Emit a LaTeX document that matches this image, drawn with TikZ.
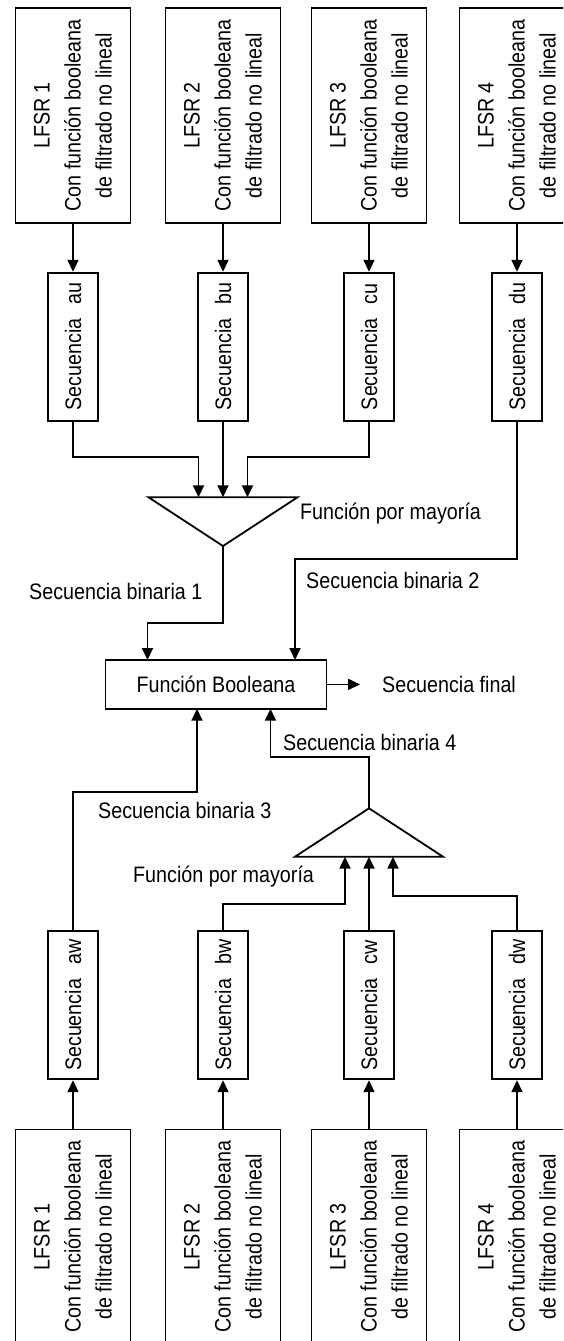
\documentclass[tikz,border=0pt]{standalone}
\usepackage{fontspec}
\setmainfont{Liberation Sans}[FakeStretch=0.88]
\usetikzlibrary{arrows.meta}
\begin{document}
\begin{tikzpicture}[x=1pt,y=-1pt,
  every node/.style={font=\fontsize{22.4}{31}\selectfont, inner sep=0pt, text=black},
  lfsrbox/.style={draw, line width=1.8pt, minimum width=115pt, minimum height=214.4pt},
  seqbox/.style={draw, line width=1.8pt, minimum width=49.4pt, minimum height=148pt},
  fbbox/.style={draw, line width=1.8pt, minimum width=221pt, minimum height=48.7pt},
  vtext/.style={rotate=90, align=center},
  lbl/.style={anchor=base west},
  arr/.style={line width=1.8pt, -{Triangle[length=12pt,width=11pt]}},
  tri/.style={line width=1.8pt, line join=miter}
]
\useasboundingbox (0,0) rectangle (563,1341);
\clip (0,0) rectangle (563,1341);

% ---- top LFSR boxes and sequences
\foreach \i/\x/\s in {1/73/au,2/223/bu,3/369/cu,4/517/du}{
  \node[lfsrbox] (LT\i) at (\x,115.5) {};
  \node[vtext] (LT\i t) at (LT\i) {LFSR \i\\Con función booleana\\de filtrado no lineal};
  \node[seqbox] (ST\i) at (\x,346.7) {};
  \node[rotate=90] (ST\i t) at (ST\i) {Secuencia\hspace{14pt}\s};
  \draw[arr] (LT\i.south) -- (ST\i.north);
}

% ---- bottom LFSR boxes and sequences
\foreach \i/\x/\s in {1/73/aw,2/223/bw,3/369/cw,4/517/dw}{
  \node[lfsrbox] (LB\i) at (\x,1236.7) {};
  \node[vtext] (LB\i t) at (LB\i) {LFSR \i\\Con función booleana\\de filtrado no lineal};
  \node[seqbox] (SB\i) at (\x,1005.3) {};
  \node[rotate=90] (SB\i t) at (SB\i) {Secuencia\hspace{14pt}\s};
  \draw[arr] (LB\i.north) -- (SB\i.south);
}

% ---- majority triangles
\coordinate (T1l) at (148.5,497.3);
\coordinate (T1r) at (297.5,497.3);
\coordinate (T1a) at (223,546);
\coordinate (T1i1) at (198.5,497.3);
\coordinate (T1i2) at (223,497.3);
\coordinate (T1i3) at (247.5,497.3);
\draw[tri] (T1l) -- (T1r) -- (T1a) -- cycle;

\coordinate (T2l) at (295,856.7);
\coordinate (T2r) at (443,856.7);
\coordinate (T2a) at (369,808.3);
\coordinate (T2i1) at (345,856.7);
\coordinate (T2i2) at (369,856.7);
\coordinate (T2i3) at (393,856.7);
\draw[tri] (T2l) -- (T2r) -- (T2a) -- cycle;

% ---- Boolean function box
\node[fbbox] (FB) at (216,684.4) {Función Booleana};
\coordinate (FBi1) at (147.5,660);
\coordinate (FBi2) at (295,660);
\coordinate (FBi3) at (197,708.7);
\coordinate (FBi4) at (270.5,708.7);
\coordinate (OUT) at (360,684.4);

% turning levels
\coordinate (Ya) at (0,456.7);
\coordinate (Yb) at (0,559.3);
\coordinate (Yc) at (0,622.7);
\coordinate (Yd) at (0,791.7);
\coordinate (Ye) at (0,757.3);
\coordinate (Yf) at (0,904.3);
\coordinate (Yg) at (0,896);

% ---- connectors, upper half
\draw[arr] (ST1.south) -- (ST1.south |- Ya) -| (T1i1);
\draw[arr] (ST2.south) -- (T1i2);
\draw[arr] (ST3.south) -- (ST3.south |- Ya) -| (T1i3);
\draw[arr] (ST4.south) -- (ST4.south |- Yb) -| (FBi2);
\draw[arr] (T1a) -- (T1a |- Yc) -| (FBi1);
\draw[arr] (FB.east) -- (OUT);

% ---- connectors, lower half
\draw[arr] (SB1.north) -- (SB1.north |- Yd) -| (FBi3);
\draw[arr] (T2a) -- (T2a |- Ye) -| (FBi4);
\draw[arr] (SB2.north) -- (SB2.north |- Yf) -| (T2i1);
\draw[arr] (SB3.north) -- (T2i2);
\draw[arr] (SB4.north) -- (SB4.north |- Yg) -| (T2i3);

% ---- labels
\node[lbl] (Lfpm1) at (300,519.5) {Función por mayoría};
\node[lbl] (Lsb2) at (306,588) {Secuencia binaria 2};
\node[lbl] (Lsb1) at (29,599.7) {Secuencia binaria 1};
\node[lbl] (Lsf) at (382,692) {Secuencia final};
\node[lbl] (Lsb4) at (283,750) {Secuencia binaria 4};
\node[lbl] (Lsb3) at (98,818.3) {Secuencia binaria 3};
\node[lbl] (Lfpm2) at (133,882) {Función por mayoría};
\end{tikzpicture}
\end{document}
